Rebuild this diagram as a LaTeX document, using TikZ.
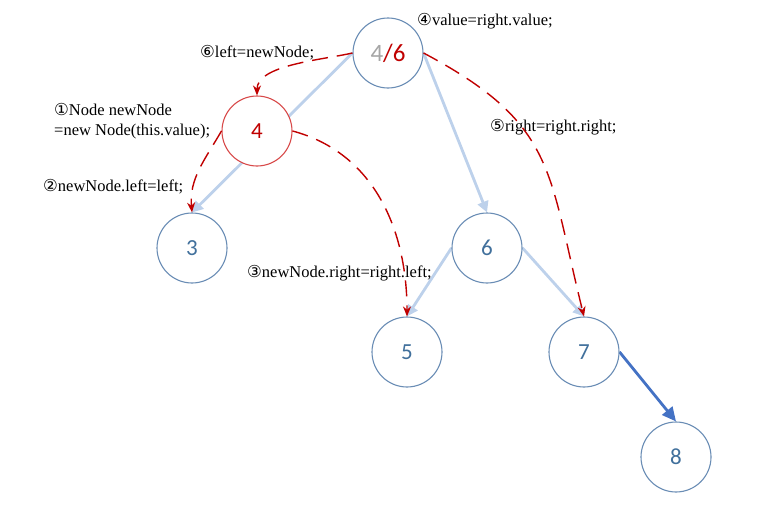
\documentclass[tikz,border=0pt]{standalone}
\usepackage{fontspec}
\setmainfont{Liberation Serif}
\newfontfamily\circfont{DejaVu Sans}
\newfontfamily\keyfont{Carlito}
\usetikzlibrary{arrows.meta,backgrounds}

\definecolor{ringblue}{HTML}{6A8DB5}
\definecolor{keyblue}{HTML}{41709C}
\definecolor{linkblue}{HTML}{BDD1EB}
\definecolor{darkblue}{HTML}{4472C4}
\definecolor{stepred}{HTML}{C00000}
\definecolor{ringred}{HTML}{D84A4A}
\definecolor{oldgrey}{HTML}{A6A6A6}

\newcommand\cnum[1]{{\circfont #1}}

\begin{document}
\begin{tikzpicture}[x=1pt,y=1pt,
    treenode/.style={circle,draw=ringblue,line width=1.1pt,fill=white,minimum size=70pt,inner sep=0pt,
                     text=keyblue,font=\keyfont\fontsize{23}{23}\selectfont},
    newnode/.style={treenode,draw=ringred,text=stepred},
    link/.style={linkblue,line width=2.8pt,-{Triangle[length=11pt,width=11pt]}},
    move/.style={stepred,line width=1.4pt,dash pattern=on 16pt off 9pt,-{Stealth[length=10pt,width=8pt]}},
    note/.style={anchor=west,inner sep=0pt,font=\fontsize{16.5}{20}\selectfont,align=left}]

            \useasboundingbox (0,0) rectangle (775,-506);

            \node[treenode,text=stepred,font=\keyfont\fontsize{25}{25}\selectfont] (root) at (388,-53) {{\color{oldgrey}4}/6};

            \node[newnode] (newfour) at (257,-131) {4};

            \node[treenode] (three) at (192,-248) {3};

            \node[treenode] (six) at (487,-248) {6};

            \node[treenode] (five) at (407,-352) {5};

            \node[treenode] (seven) at (584,-352) {7};

            \node[treenode] (eight) at (676,-457) {8};

            

            \begin{scope}[on background layer]

            \path[link] (root.west) edge (three.north)

                        (root.east) edge (six.north)

                        (six.west) edge (five.north)

                        (six.east) edge (seven.north);

            \draw[link,darkblue,-{Triangle[length=14pt,width=13pt]}] (seven.east) -- (eight.north);

            \end{scope}

            

            \node[note] (setvalue) at (417,-21) {\cnum{④}value=right.value;};

            \node[note] (setleft) at (200,-53) {\cnum{⑥}left=newNode;};

            \node[note] (setright) at (490,-127) {\cnum{⑤}right=right.right;};

            \node[note] (create) at (54,-121) {\cnum{①}Node newNode\\=new Node(this.value);};

            \node[note] (newleft) at (43,-187) {\cnum{②}newNode.left=left;};

            \node[note] (newright) at (247,-273) {\cnum{③}newNode.right=right.left;};

            

            \path[move] (root.west) edge [out=193,in=90,looseness=0.75] (newfour.north)

                        (newfour.west) edge [out=240,in=95] (three.north)

                        (newfour.east) edge [out=-15,in=90] (five.north)

                        (root.east) edge [out=-28,in=104,looseness=1.25] (seven.north);

        \end{tikzpicture}
\end{document}
